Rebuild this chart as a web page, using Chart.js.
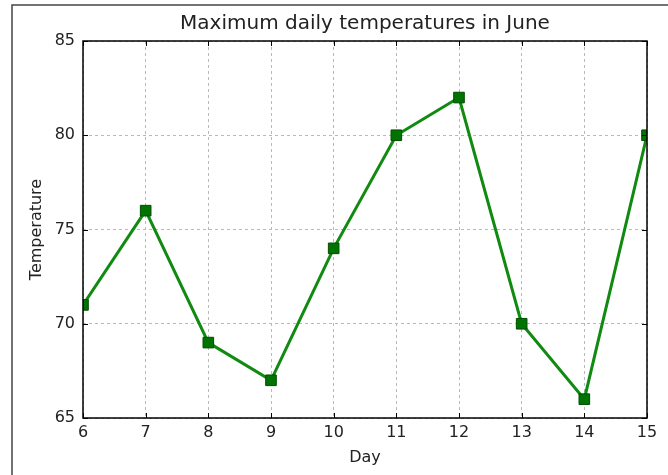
<!DOCTYPE html>
<html>
<head>
<meta charset="utf-8">
<script src="https://cdn.jsdelivr.net/npm/chart.js@4"></script>
<style>
  html, body { margin: 0; padding: 0; background: #fff; }
  #wrap { width: 668px; height: 475px; }
</style>
</head>
<body>
<div id="wrap"><canvas id="chart" width="668" height="475"></canvas></div>
<script>
const days = [6, 7, 8, 9, 10, 11, 12, 13, 14, 15];
const temps = [71, 76, 69, 67, 74, 80, 82, 70, 66, 80];
const yTicks = [65, 70, 75, 80, 85];

const FONT = "'DejaVu Sans', sans-serif";

// outer frame + axes box + inward tick marks (matplotlib classic look)
const framePlugin = {
  id: "frame",
  beforeDraw(chart) {
    const ctx = chart.ctx;
    ctx.save();
    ctx.fillStyle = "#fff";
    ctx.fillRect(0, 0, chart.width, chart.height);
    ctx.strokeStyle = "#444";
    ctx.lineWidth = 1.5;
    ctx.strokeRect(12, 5, 800, 600);
    ctx.restore();
  },
  afterDraw(chart) {
    const { ctx, chartArea: a, scales } = chart;
    ctx.save();
    ctx.strokeStyle = "#000";
    ctx.lineWidth = 1;
    ctx.beginPath();
    scales.x.ticks.forEach(t => {
      const px = Math.round(scales.x.getPixelForValue(t.value)) + 0.5;
      ctx.moveTo(px, a.bottom); ctx.lineTo(px, a.bottom - 5);
      ctx.moveTo(px, a.top); ctx.lineTo(px, a.top + 5);
    });
    scales.y.ticks.forEach(t => {
      const py = Math.round(scales.y.getPixelForValue(t.value)) + 0.5;
      ctx.moveTo(a.left, py); ctx.lineTo(a.left + 5, py);
      ctx.moveTo(a.right, py); ctx.lineTo(a.right - 5, py);
    });
    ctx.stroke();
    ctx.lineWidth = 1.5;
    ctx.strokeRect(a.left, a.top, a.right - a.left, a.bottom - a.top);
    ctx.restore();
  }
};

new Chart(document.getElementById("chart"), {
  type: "line",
  data: {
    datasets: [{
      data: days.map((d, i) => ({ x: d, y: temps[i] })),
      borderColor: "#108a10",
      borderWidth: 3,
      tension: 0,
      pointStyle: "rect",
      pointRadius: 7.5,
      pointBackgroundColor: "#007300",
      pointBorderColor: "#004d00",
      pointBorderWidth: 1
    }]
  },
  options: {
    responsive: false,
    animation: false,
    layout: { padding: { left: 0, right: 21, top: 0, bottom: 0 } },
    plugins: {
      legend: { display: false },
      tooltip: { enabled: false },
      title: {
        display: true,
        fullSize: false,
        text: "Maximum daily temperatures in June",
        color: "#222",
        font: { family: FONT, size: 20, weight: "normal" },
        padding: { top: 12, bottom: 5 }
      }
    },
    scales: {
      x: {
        type: "linear",
        min: 6,
        max: 15,
        afterFit: s => { s.height = 57; },
        ticks: {
          stepSize: 1,
          color: "#222",
          padding: 5,
          font: { family: FONT, size: 16 }
        },
        grid: { color: "#b8b8b8", drawTicks: false },
        border: { display: false, dash: [3, 3] },
        title: {
          display: true,
          text: "Day",
          color: "#222",
          font: { family: FONT, size: 16 },
          padding: { top: 0, bottom: 8 }
        }
      },
      y: {
        min: 65,
        max: 85,
        afterFit: s => { s.width = 83; },
        afterBuildTicks: s => { s.ticks = yTicks.map(v => ({ value: v })); },
        ticks: {
          color: "#222",
          padding: 8,
          font: { family: FONT, size: 16 }
        },
        grid: { color: "#b8b8b8", drawTicks: false },
        border: { display: false, dash: [3, 3] },
        title: {
          display: true,
          text: "Temperature",
          color: "#222",
          font: { family: FONT, size: 16 },
          padding: { top: 27, bottom: 0 }
        }
      }
    }
  },
  plugins: [framePlugin]
});
</script>
</body>
</html>
